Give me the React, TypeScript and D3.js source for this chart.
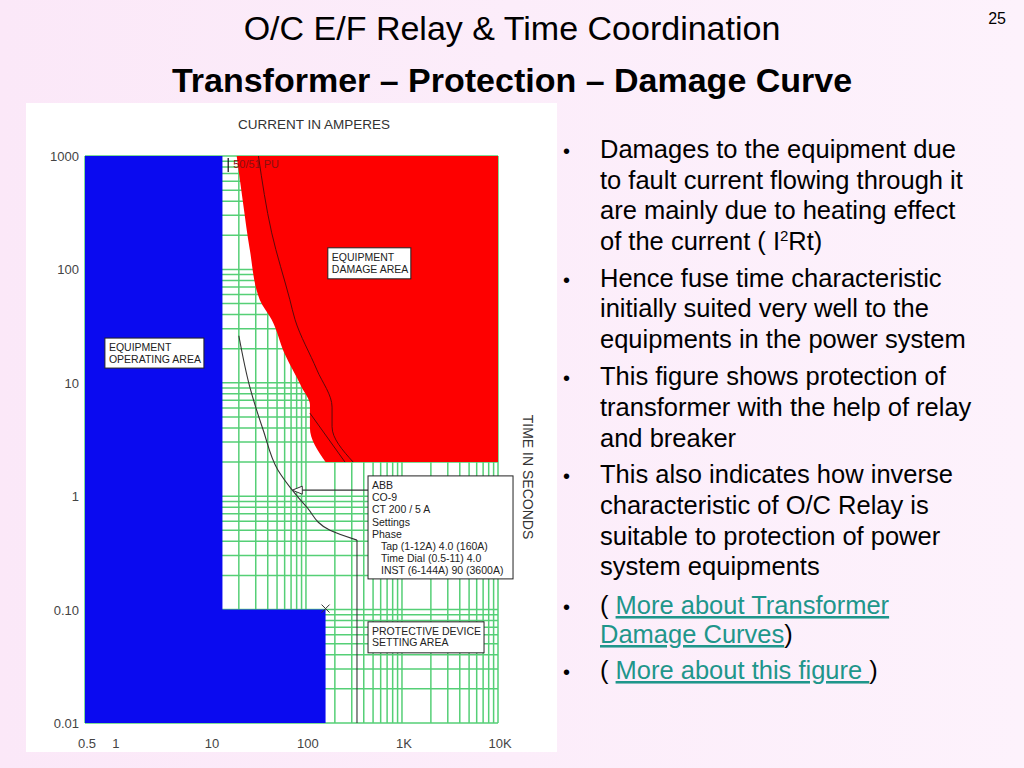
import * as d3 from "d3";

const FONT = "'Liberation Sans', Arial, Helvetica, sans-serif";

// axes of the log-log chart
const X_DOMAIN: [number, number] = [0.5, 10000];
const Y_DOMAIN: [number, number] = [0.01, 1000];
const xTickValues = [0.5, 1, 10, 100, 1000, 10000];
const xTickLabels = ["0.5", "1", "10", "100", "1K", "10K"];
const yTickValues = [1000, 100, 10, 1, 0.1, 0.01];
const yTickLabels = ["1000", "100", "10", "1", "0.10", "0.01"];

// [current A, time s]
const operatingArea: [number, number][] = [
  [0.5, 1000], [13.5, 1000], [13.5, 0.1], [160, 0.1], [160, 0.01], [0.5, 0.01],
];
const damageLeft: [number, number][] = [
  [19, 1000], [22, 400], [26, 150], [33, 54], [44, 36], [60, 18], [90, 9.2], [110, 6.4], [110, 4], [160, 2],
];
const damageBottom = 2;
const damageInner1: [number, number][] = [
  [32, 1000], [44, 210], [68, 54], [77, 36], [130, 13], [187, 6.1], [187, 4.1], [310, 2],
];
const damageInner2: [number, number][] = [[110, 5.4], [255, 2]];
const relayCurve: [number, number][] = [
  [20, 26], [26, 9.2], [36, 3.8], [51, 1.7], [72, 1.13], [102, 0.8], [178, 0.5], [340, 0.41],
];
const relayInst: [number, number][] = [[340, 0.41], [340, 0.01]];
const relayMarker: [number, number] = [72, 1.13];
const pickupCurrent = 15.5;
const settingPoint: [number, number] = [160, 0.1];

const abbLines = [
  "ABB", "CO-9", "CT 200 / 5 A", "Settings", "Phase",
  "  Tap (1-12A) 4.0 (160A)", "  Time Dial (0.5-11) 4.0", "  INST (6-144A) 90 (3600A)",
];

const bullets: { lines: string[] }[] = [
  { lines: ["Damages to the equipment due", "to fault current flowing through it", "are mainly due to heating effect", "of the current ( I2Rt)"] },
  { lines: ["Hence fuse time characteristic", "initially suited very well to the", "equipments in the power system"] },
  { lines: ["This figure shows protection of", "transformer with the help of relay", "and breaker"] },
  { lines: ["This also indicates how inverse", "characteristic of O/C Relay is", "suitable to protection of power", "system equipments"] },
];
const bulletBaselines = [[158, 189, 219, 250], [287, 317, 348], [385, 416, 447], [483, 514, 545, 575]];

const x = d3.scaleLog().domain(X_DOMAIN).range([85, 498]);
const y = d3.scaleLog().domain(Y_DOMAIN).range([723, 156]);

const Box = ({ at, w, h, lines, lh, first }: { at: [number, number]; w: number; h: number; lines: string[]; lh: number; first: number }) => {
  const bx = x(at[0]);
  const by = y(at[1]);
  return (
    <g>
      <rect x={bx} y={by} width={w} height={h} fill="#fff" stroke="#222" strokeWidth={1} />
      {lines.map((l, i) => (
        <text key={i} x={bx + 4 + (l.startsWith("  ") ? 9 : 0)} y={by + first + i * lh} fontSize={10.5} fill="#222" fontFamily={FONT}>
          {l.trim()}
        </text>
      ))}
    </g>
  );
};

export default function App() {
  const line = d3.line<[number, number]>().x((d) => x(d[0])).y((d) => y(d[1]));
  const smooth = d3.line<[number, number]>().x((d) => x(d[0])).y((d) => y(d[1])).curve(d3.curveMonotoneY);

  const damagePath =
    smooth(damageLeft) + `L${x(X_DOMAIN[1])},${y(damageBottom)}L${x(X_DOMAIN[1])},${y(Y_DOMAIN[1])}Z`;

  const xt = x.ticks();
  const yt = y.ticks();
  const [x0, x1] = x.range();
  const [y0, y1] = y.range();

  const mx = x(relayMarker[0]);
  const my = y(relayMarker[1]);
  const sx = x(settingPoint[0]);
  const sy = y(settingPoint[1]);

  return (
    <div style={{ position: "fixed", left: 0, top: 0 }}>
      <svg width={1024} height={768} style={{ display: "block" }}>
        <defs>
          <linearGradient id="bg" x1="0" x2="1" y1="0" y2="0">
            <stop offset="0" stopColor="#fbe8f8" />
            <stop offset="1" stopColor="#fdf2fc" />
          </linearGradient>
        </defs>
        <rect width={1024} height={768} fill="url(#bg)" />

        <text x={512} y={40} textAnchor="middle" fontSize={34} fontFamily={FONT} fill="#000">
          O/C E/F Relay &amp; Time Coordination
        </text>
        <text x={512} y={92} textAnchor="middle" fontSize={34} fontWeight="bold" fontFamily={FONT} fill="#000">
          Transformer – Protection – Damage Curve
        </text>
        <text x={1006} y={24} textAnchor="end" fontSize={16} fontFamily={FONT} fill="#000">25</text>

        {/* chart panel */}
        <rect x={26} y={103} width={531} height={649} fill="#fff" />

        <g stroke="#55cf76" strokeWidth={1.5}>
          {xt.map((v, i) => (
            <line key={"gx" + i} x1={x(v)} x2={x(v)} y1={y0} y2={y1} />
          ))}
          {yt.map((v, i) => (
            <line key={"gy" + i} x1={x0} x2={x1} y1={y(v)} y2={y(v)} />
          ))}
        </g>

        <path d={line(operatingArea) + "Z"} fill="#0a0af0" />
        <path d={damagePath} fill="#fe0000" />
        <path d={smooth(damageInner1) ?? ""} fill="none" stroke="#5a0a0a" strokeWidth={1} />
        <path d={line(damageInner2) ?? ""} fill="none" stroke="#5a0a0a" strokeWidth={1} />

        <path d={smooth(relayCurve) ?? ""} fill="none" stroke="#333" strokeWidth={1.1} />
        <path d={line(relayInst) ?? ""} fill="none" stroke="#333" strokeWidth={1.1} />

        {/* marker to the relay settings box */}
        <path d={`M${mx},${my}L${mx + 10},${my - 4}L${mx + 10},${my + 4}Z`} fill="#fff" stroke="#333" strokeWidth={1} />
        <line x1={mx + 10} x2={x(443)} y1={my} y2={my} stroke="#333" strokeWidth={1.2} />

        {/* setting point X */}
        <g stroke="#333" strokeWidth={1}>
          <line x1={sx - 4} x2={sx + 4} y1={sy - 5} y2={sy + 3} />
          <line x1={sx + 4} x2={sx - 4} y1={sy - 5} y2={sy + 3} />
        </g>

        {/* 50/51 pickup */}
        <line x1={x(pickupCurrent)} x2={x(pickupCurrent)} y1={y(1000) + 2} y2={y(1000) + 16} stroke="#111" strokeWidth={1.2} />
        <text x={x(pickupCurrent) + 5} y={y(1000) + 12} fontSize={11} fill="#8a1010" fontFamily={FONT}>50/51 PU</text>

        <Box at={[169, 155]} w={83} h={31} lines={["EQUIPMENT", "DAMAGE AREA"]} lh={12} first={13} />
        <Box at={[0.806, 24.8]} w={99} h={30} lines={["EQUIPMENT", "OPERATING AREA"]} lh={12} first={13} />
        <Box at={[443, 1.51]} w={145} h={103} lines={abbLines} lh={12.2} first={13} />
        <Box at={[443, 0.078]} w={116} h={31} lines={["PROTECTIVE DEVICE", "SETTING AREA"]} lh={11.5} first={13} />

        {/* axis labels */}
        {yTickValues.map((v, i) => (
          <text key={"yl" + i} x={79} y={y(v) + 5} textAnchor="end" fontSize={13} fill="#444" fontFamily={FONT}>
            {yTickLabels[i]}
          </text>
        ))}
        {xTickValues.map((v, i) => (
          <text key={"xl" + i} x={x(v) + 2} y={748} textAnchor="middle" fontSize={13} fill="#444" fontFamily={FONT}>
            {xTickLabels[i]}
          </text>
        ))}
        <text x={314} y={129} textAnchor="middle" fontSize={13.5} fill="#333" fontFamily={FONT}>CURRENT IN AMPERES</text>
        <text transform="translate(523,477) rotate(90)" textAnchor="middle" fontSize={14} fill="#333" fontFamily={FONT}>
          TIME IN SECONDS
        </text>

        {/* bullet text */}
        <g fontFamily={FONT} fontSize={25.5} fill="#000">
          {bullets.map((b, bi) => (
            <g key={"b" + bi}>
              <text x={563} y={bulletBaselines[bi][0]} fontSize={20}>•</text>
              {b.lines.map((l, li) => (
                <text key={li} x={600} y={bulletBaselines[bi][li]}>
                  {l.includes("I2Rt") ? (
                    <>
                      of the current ( I<tspan fontSize={15} dy={-9}>2</tspan>
                      <tspan dy={9}>Rt)</tspan>
                    </>
                  ) : (
                    l
                  )}
                </text>
              ))}
            </g>
          ))}
          <text x={563} y={614} fontSize={20}>•</text>
          <text x={600} y={614}>
            ( <tspan fill="#1f968b" textDecoration="underline">More about Transformer</tspan>
          </text>
          <text x={600} y={643}>
            <tspan fill="#1f968b" textDecoration="underline">Damage Curves</tspan>)
          </text>
          <text x={563} y={679} fontSize={20}>•</text>
          <text x={600} y={679}>
            ( <tspan fill="#1f968b" textDecoration="underline">More about this figure </tspan>)
          </text>
        </g>
      </svg>
    </div>
  );
}
